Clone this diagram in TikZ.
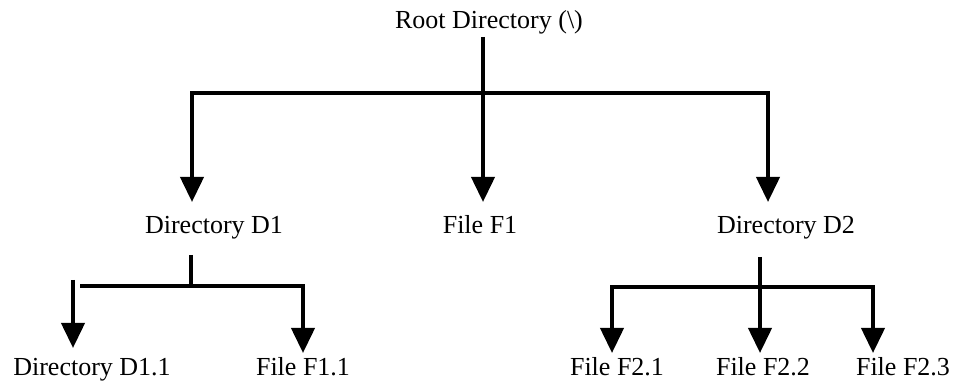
\documentclass[tikz,border=0pt]{standalone}
\usepackage{fontspec}
\setmainfont{Liberation Serif}
\newfontfamily\lblfont{Liberation Serif}
\usetikzlibrary{arrows.meta}
\begin{document}
\begin{tikzpicture}[x=1pt,y=1pt,
  lbl/.style={inner sep=0pt, anchor=base, font=\lblfont\fontsize{26}{30}\selectfont},
  conn/.style={line width=4pt},
  arr/.style={conn, -{Triangle[length=25pt,width=23pt]}}]
\useasboundingbox (0,0) rectangle (953,387);
% labels
\node[lbl] (root) at (489,358) {Root Directory (\textbackslash)};
\node[lbl] (d1) at (214,153) {Directory D1};
\node[lbl] (f1) at (480,153) {File F1};
\node[lbl] (d2) at (786,153) {Directory D2};
\node[lbl] (d11) at (92,11) {Directory D1.1};
\node[lbl] (f11) at (303,11) {File F1.1};
\node[lbl] (f21) at (617,11) {File F2.1};
\node[lbl] (f22) at (763,11) {File F2.2};
\node[lbl] (f23) at (903,11) {File F2.3};
% junctions and arrow tips
\coordinate (rj) at (483,294);
\coordinate (t1) at (192,185);
\coordinate (t2) at (483,185);
\coordinate (t3) at (768,185);
\coordinate (d1top) at (191,132);
\coordinate (d1j) at (191,101);
\coordinate (d1l) at (80,101);
\coordinate (d11s) at (73,107);
\coordinate (d11t) at (73,39);
\coordinate (f11t) at (303,34);
\coordinate (d2top) at (760,130);
\coordinate (d2j) at (760,100);
\coordinate (f21t) at (612,34);
\coordinate (f22t) at (760,34);
\coordinate (f23t) at (873,34);
% root level
\draw[conn] ([yshift=-2pt]root.south -| rj) -- (rj);
\draw[arr] (rj) -| (t1);
\draw[arr] (rj) -- (t2);
\draw[arr] (rj) -| (t3);
% D1 subtree
\draw[conn] (d1top) -- (d1j) -- (d1l);
\draw[arr] (d1j) -| (f11t);
\draw[arr] (d11s) -- (d11t);
% D2 subtree
\draw[arr] (d2top) -- (f22t);
\draw[arr] (d2j) -| (f21t);
\draw[arr] (d2j) -| (f23t);
\end{tikzpicture}
\end{document}
